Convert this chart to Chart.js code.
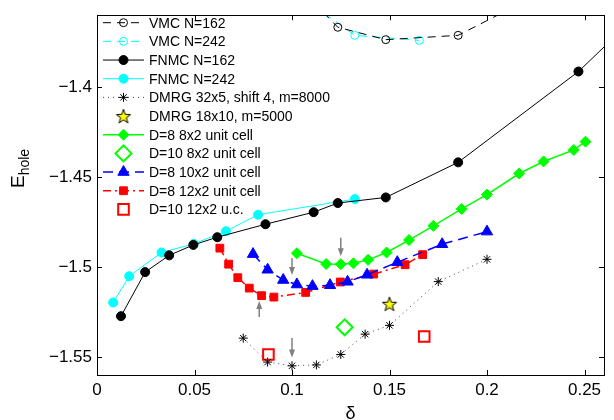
<!DOCTYPE html>
<html>
<head>
<meta charset="utf-8">
<script src="https://cdn.jsdelivr.net/npm/chart.js@4/dist/chart.umd.min.js"></script>
<style>
  body { margin: 0; background: #fff; }
  #wrap { width: 614px; height: 420px; }
</style>
</head>
<body>
<div id="wrap"><canvas id="myChart"></canvas></div>
<script>
// Данные
const vmc162X = [0.1111, 0.1235, 0.1481, 0.1852, 0.2469];
const vmc162Y = [-1.353, -1.3667, -1.3736, -1.3712, -1.337];
const vmc242X = [0.0992, 0.1322, 0.1653];
const vmc242Y = [-1.345, -1.3712, -1.374];
const fnmc162X = [0.0123, 0.0247, 0.037, 0.0494, 0.0617, 0.0864, 0.1111, 0.1235, 0.1481, 0.1852, 0.2469, 0.2963];
const fnmc162Y = [-1.5273, -1.5028, -1.4935, -1.4877, -1.4834, -1.4762, -1.4695, -1.4644, -1.4613, -1.4418, -1.3913, -1.34];
const fnmc242X = [0.0083, 0.0165, 0.0331, 0.0496, 0.0661, 0.0826, 0.1322];
const fnmc242Y = [-1.5197, -1.5051, -1.4919, -1.4871, -1.4801, -1.4709, -1.4622];
const dmrg32X = [0.075, 0.0875, 0.1, 0.1125, 0.125, 0.1375, 0.15, 0.175, 0.2];
const dmrg32Y = [-1.5395, -1.5528, -1.5549, -1.5544, -1.5486, -1.5373, -1.5324, -1.5081, -1.4957];
const dmrg18X = [0.15];
const dmrg18Y = [-1.5204];
const d8u8X = [0.1025, 0.1175, 0.125, 0.1315, 0.139, 0.1485, 0.16, 0.1725, 0.187, 0.2, 0.2165, 0.229, 0.2445, 0.2505];
const d8u8Y = [-1.4923, -1.4983, -1.4984, -1.4979, -1.496, -1.4919, -1.485, -1.4771, -1.4677, -1.4597, -1.448, -1.4413, -1.4349, -1.4303];
const d10u8X = [0.127];
const d10u8Y = [-1.5335];
const d8u10X = [0.08, 0.0875, 0.0955, 0.1025, 0.1105, 0.1195, 0.1285, 0.1385, 0.154, 0.177, 0.2];
const d8u10Y = [-1.4928, -1.5015, -1.5072, -1.5097, -1.5106, -1.5101, -1.5082, -1.5043, -1.4973, -1.4873, -1.4803];
const d8u12X = [0.063, 0.0675, 0.0722, 0.0781, 0.0844, 0.0907, 0.107, 0.1248, 0.1419, 0.158, 0.167];
const d8u12Y = [-1.4895, -1.4984, -1.5059, -1.5117, -1.5159, -1.5167, -1.5141, -1.5083, -1.5039, -1.4987, -1.4931];
const d10u12X = [0.0879, 0.1678];
const d10u12Y = [-1.5486, -1.5386];

// Серые стрелки
const arrowX = [0.1, 0.1, 0.0832, 0.125];
const arrowFrom = [-1.5394, -1.495, -1.5277, -1.4837];
const arrowTo = [-1.5503, -1.5044, -1.5189, -1.494];

// Подписи осей
const xTicks = [0, 0.05, 0.1, 0.15, 0.2, 0.25];
const yTicks = [-1.55, -1.5, -1.45, -1.4];

const FONT = "'Liberation Sans', Arial, Helvetica, sans-serif";
Chart.defaults.font.family = FONT;

function pts(xs, ys) {
  return xs.map((x, i) => ({ x: x, y: ys[i] }));
}

// Пятиконечная звезда для DMRG 18x10
function makePentagram() {
  const c = document.createElement("canvas");
  c.width = 18;
  c.height = 18;
  const g = c.getContext("2d");
  g.beginPath();
  for (let k = 0; k < 10; k++) {
    const r = k % 2 === 0 ? 7.5 : 3;
    const a = -Math.PI / 2 + (k * Math.PI) / 5;
    const px = 9 + r * Math.cos(a);
    const py = 9.8 + r * Math.sin(a);
    if (k === 0) g.moveTo(px, py);
    else g.lineTo(px, py);
  }
  g.closePath();
  g.fillStyle = "#ffff00";
  g.fill();
  g.strokeStyle = "#000";
  g.lineWidth = 1;
  g.stroke();
  return c;
}

function ds(label, xs, ys, o) {
  return Object.assign(
    {
      label: label,
      data: pts(xs, ys),
      showLine: true,
      borderWidth: 1,
      borderDash: [],
      pointBorderWidth: 1,
    },
    o
  );
}

const datasets = [
  ds("VMC N=162", vmc162X, vmc162Y, {
    borderColor: "#000", borderDash: [8, 6],
    pointStyle: "circle", pointRadius: 4, pointBackgroundColor: "rgba(0,0,0,0)", pointBorderColor: "#000",
  }),
  ds("VMC N=242", vmc242X, vmc242Y, {
    borderColor: "#00ffff", borderDash: [8, 6],
    pointStyle: "circle", pointRadius: 4, pointBackgroundColor: "rgba(0,0,0,0)", pointBorderColor: "#00ffff",
  }),
  ds("FNMC N=162", fnmc162X, fnmc162Y, {
    borderColor: "#000",
    pointStyle: "circle", pointRadius: 4.5, pointBackgroundColor: "#000", pointBorderColor: "#000",
  }),
  ds("FNMC N=242", fnmc242X, fnmc242Y, {
    borderColor: "#00ffff",
    pointStyle: "circle", pointRadius: 4.5, pointBackgroundColor: "#00ffff", pointBorderColor: "#00ffff",
  }),
  ds("DMRG 32x5, shift 4, m=8000", dmrg32X, dmrg32Y, {
    borderColor: "#444", borderDash: [1, 4],
    pointStyle: "star", pointRadius: 4.5, pointBackgroundColor: "#000", pointBorderColor: "#000",
  }),
  ds("DMRG 18x10, m=5000", dmrg18X, dmrg18Y, {
    showLine: false, borderColor: "#000",
    pointStyle: makePentagram(), pointRadius: 7,
  }),
  ds("D=8 8x2 unit cell", d8u8X, d8u8Y, {
    borderColor: "#00ff00", borderWidth: 1.5,
    pointStyle: "rectRot", pointRadius: 5.5, pointBackgroundColor: "#00ff00", pointBorderColor: "#00ff00",
  }),
  ds("D=10 8x2 unit cell", d10u8X, d10u8Y, {
    showLine: false, borderColor: "#00ff00",
    pointStyle: "rectRot", pointRadius: 8, pointBorderWidth: 2, pointBackgroundColor: "rgba(0,0,0,0)", pointBorderColor: "#00ff00",
  }),
  ds("D=8 10x2 unit cell", d8u10X, d8u10Y, {
    borderColor: "#0000ff", borderWidth: 1.5, borderDash: [10, 6],
    pointStyle: "triangle", pointRadius: 6.5, pointBackgroundColor: "#0000ff", pointBorderColor: "#0000ff",
  }),
  ds("D=8 12x2 unit cell", d8u12X, d8u12Y, {
    borderColor: "#ff0000", borderWidth: 1.5, borderDash: [8, 4, 2, 4],
    pointStyle: "rect", pointRadius: 5.5, pointBackgroundColor: "#ff0000", pointBorderColor: "#ff0000",
  }),
  ds("D=10 12x2 u.c.", d10u12X, d10u12Y, {
    showLine: false, borderColor: "#ff0000",
    pointStyle: "rect", pointRadius: 7.5, pointBorderWidth: 2, pointBackgroundColor: "rgba(0,0,0,0)", pointBorderColor: "#ff0000",
  }),
];

// Рамка, внутренние засечки, стрелки, подписи осей
const framePlugin = {
  id: "frame",
  beforeDatasetsDraw(chart) {
    const ctx = chart.ctx;
    const xs = chart.scales.x;
    const ys = chart.scales.y;
    ctx.save();
    ctx.strokeStyle = "#808080";
    ctx.fillStyle = "#808080";
    ctx.lineWidth = 1.5;
    arrowX.forEach((v, i) => {
      const x = xs.getPixelForValue(v);
      const y0 = ys.getPixelForValue(arrowFrom[i]);
      const y1 = ys.getPixelForValue(arrowTo[i]);
      const dir = y1 > y0 ? 1 : -1;
      ctx.beginPath();
      ctx.moveTo(x, y0);
      ctx.lineTo(x, y1 - dir * 6);
      ctx.stroke();
      ctx.beginPath();
      ctx.moveTo(x, y1);
      ctx.lineTo(x - 3, y1 - dir * 8);
      ctx.lineTo(x + 3, y1 - dir * 8);
      ctx.closePath();
      ctx.fill();
    });
    ctx.restore();
  },
  afterDraw(chart) {
    const ctx = chart.ctx;
    const a = chart.chartArea;
    const xs = chart.scales.x;
    const ys = chart.scales.y;
    ctx.save();
    ctx.strokeStyle = "#000";
    ctx.lineWidth = 1;
    ctx.strokeRect(Math.round(a.left) + 0.5, Math.round(a.top) + 0.5, Math.round(a.right - a.left), Math.round(a.bottom - a.top));
    ctx.beginPath();
    xTicks.forEach((v) => {
      const x = Math.round(xs.getPixelForValue(v)) + 0.5;
      ctx.moveTo(x, a.bottom);
      ctx.lineTo(x, a.bottom - 5);
      ctx.moveTo(x, a.top);
      ctx.lineTo(x, a.top + 5);
    });
    yTicks.forEach((v) => {
      const y = Math.round(ys.getPixelForValue(v)) + 0.5;
      ctx.moveTo(a.left, y);
      ctx.lineTo(a.left + 5, y);
      ctx.moveTo(a.right, y);
      ctx.lineTo(a.right - 5, y);
    });
    ctx.stroke();

    // подпись оси x
    ctx.fillStyle = "#000";
    ctx.font = "18px " + FONT;
    ctx.textAlign = "center";
    ctx.textBaseline = "alphabetic";
    ctx.fillText("δ", (a.left + a.right) / 2, 419);

    // подпись оси y с индексом
    ctx.translate(24, 188);
    ctx.rotate(-Math.PI / 2);
    ctx.textAlign = "left";
    ctx.font = "19px " + FONT;
    ctx.fillText("E", 0, 0);
    const w = ctx.measureText("E").width;
    ctx.font = "14px " + FONT;
    ctx.fillText("hole", w, 5);
    ctx.restore();
  },
};

// Легенда в стиле MATLAB
const legendPlugin = {
  id: "matlabLegend",
  afterDraw(chart) {
    const ctx = chart.ctx;
    chart.data.datasets.forEach((d, i) => {
      const y = 22.7 + i * 18.67;
      ctx.save();
      if (d.showLine) {
        ctx.strokeStyle = d.borderColor;
        ctx.lineWidth = d.borderWidth;
        ctx.setLineDash(d.borderDash);
        ctx.beginPath();
        ctx.moveTo(103, y);
        ctx.lineTo(144, y);
        ctx.stroke();
      }
      ctx.setLineDash([]);
      ctx.fillStyle = d.pointBackgroundColor || "rgba(0,0,0,0)";
      ctx.strokeStyle = d.pointBorderColor || "#000";
      ctx.lineWidth = d.pointBorderWidth;
      Chart.helpers.drawPoint(
        ctx,
        { pointStyle: d.pointStyle, radius: d.pointRadius, borderWidth: d.pointBorderWidth, rotation: 0 },
        123.5,
        y
      );
      ctx.fillStyle = "#000";
      ctx.font = "14px " + FONT;
      ctx.textAlign = "left";
      ctx.textBaseline = "middle";
      ctx.fillText(d.label, 149, y + 1);
      ctx.restore();
    });
  },
};

function fmt(v) {
  return String(v).replace("-", "\u2212");
}

const config = {
  type: "scatter",
  data: { datasets: datasets },
  options: {
    responsive: true,
    maintainAspectRatio: false,
    animation: false,
    layout: { padding: { top: 10, right: 3, left: 0, bottom: 0 } },
    plugins: { legend: { display: false }, tooltip: { enabled: false } },
    scales: {
      x: {
        type: "linear",
        min: 0,
        max: 0.26,
        grid: { display: false, drawTicks: false },
        border: { display: false },
        afterBuildTicks: (s) => { s.ticks = xTicks.map((v) => ({ value: v })); },
        afterFit: (s) => { s.height = 45; },
        ticks: { font: { size: 17 }, color: "#000", padding: 5, maxRotation: 0, callback: (v) => fmt(v) },
      },
      y: {
        type: "linear",
        min: -1.56,
        max: -1.36,
        grid: { display: false, drawTicks: false },
        border: { display: false },
        afterBuildTicks: (s) => { s.ticks = yTicks.map((v) => ({ value: v })); },
        afterFit: (s) => { s.width = 97; },
        ticks: { font: { size: 17 }, color: "#000", padding: 5, callback: (v) => fmt(v) },
      },
    },
  },
  plugins: [framePlugin, legendPlugin],
};

myChart = new Chart(document.getElementById("myChart"), config);
</script>
</body>
</html>
